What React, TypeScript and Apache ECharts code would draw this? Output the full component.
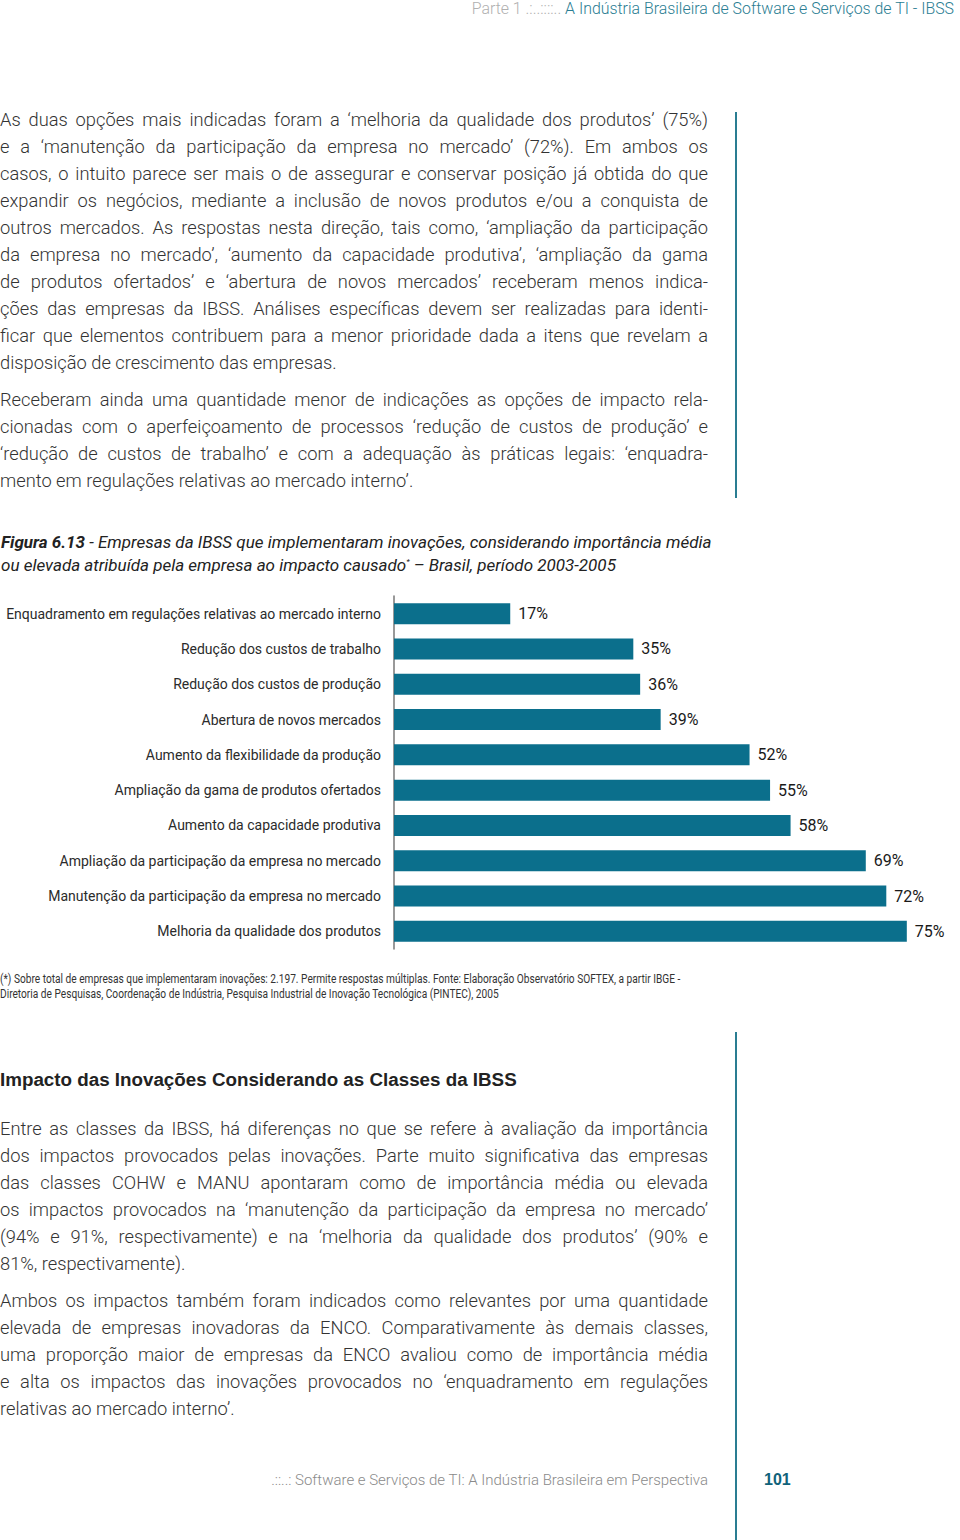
import React, { useEffect, useRef } from "react";
import * as echarts from "echarts";

const categories = [
  "Enquadramento em regulações relativas ao mercado interno",
  "Redução dos custos de trabalho",
  "Redução dos custos de produção",
  "Abertura de novos mercados",
  "Aumento da flexibilidade da produção",
  "Ampliação da gama de produtos ofertados",
  "Aumento da capacidade produtiva",
  "Ampliação da participação da empresa no mercado",
  "Manutenção da participação da empresa no mercado",
  "Melhoria da qualidade dos produtos",
];
const values = [17, 35, 36, 39, 52, 55, 58, 69, 72, 75];

const headerGray = "Parte 1 .:..::::.. ";
const headerTeal = "A Indústria Brasileira de Software e Serviços de TI - IBSS";

const para1 = [
  "As duas opções mais indicadas foram a ‘melhoria da qualidade dos produtos’ (75%)",
  "e a ‘manutenção da participação da empresa no mercado’ (72%). Em ambos os",
  "casos, o intuito parece ser mais o de assegurar e conservar posição já obtida do que",
  "expandir os negócios, mediante a inclusão de novos produtos e/ou a conquista de",
  "outros mercados. As respostas nesta direção, tais como, ‘ampliação da participação",
  "da empresa no mercado’, ‘aumento da capacidade produtiva’, ‘ampliação da gama",
  "de produtos ofertados’ e ‘abertura de novos mercados’ receberam menos indica-",
  "ções das empresas da IBSS. Análises específicas devem ser realizadas para identi-",
  "ficar que elementos contribuem para a menor prioridade dada a itens que revelam a",
  "disposição de crescimento das empresas.",
];
const para2 = [
  "Receberam ainda uma quantidade menor de indicações as opções de impacto rela-",
  "cionadas com o aperfeiçoamento de processos ‘redução de custos de produção’ e",
  "‘redução de custos de trabalho’ e com a adequação às práticas legais: ‘enquadra-",
  "mento em regulações relativas ao mercado interno’.",
];
const captionBold = "Figura 6.13";
const captionLine1 = " - Empresas da IBSS que implementaram inovações, considerando importância média";
const captionLine2a = "ou elevada atribuída pela empresa ao impacto causado";
const captionLine2b = " – Brasil, período 2003-2005";
const footnote = [
  "(*) Sobre total de empresas que implementaram inovações: 2.197. Permite respostas múltiplas. Fonte: Elaboração Observatório SOFTEX, a partir IBGE -",
  "Diretoria de Pesquisas, Coordenação de Indústria, Pesquisa Industrial de Inovação Tecnológica (PINTEC), 2005",
];
const heading = "Impacto das Inovações Considerando as Classes da IBSS";
const para3 = [
  "Entre as classes da IBSS, há diferenças no que se refere à avaliação da importância",
  "dos impactos provocados pelas inovações. Parte muito significativa das empresas",
  "das classes COHW e MANU apontaram como de importância média ou elevada",
  "os impactos provocados na ‘manutenção da participação da empresa no mercado’",
  "(94% e 91%, respectivamente) e na ‘melhoria da qualidade dos produtos’ (90% e",
  "81%, respectivamente).",
];
const para4 = [
  "Ambos os impactos também foram indicados como relevantes por uma quantidade",
  "elevada de empresas inovadoras da ENCO. Comparativamente às demais classes,",
  "uma proporção maior de empresas da ENCO avaliou como de importância média",
  "e alta os impactos das inovações provocados no ‘enquadramento em regulações",
  "relativas ao mercado interno’.",
];
const footerText = ".::..: Software e Serviços de TI: A Indústria Brasileira em Perspectiva";
const pageNumber = "101";

const TEAL = "#2a7d92";
const BAR = "#0b6f8c";
const NARROW = "Roboto, 'Liberation Sans', sans-serif";
const BODY = "Roboto, 'Liberation Sans', sans-serif";

function Para({ lines, top, lh }: { lines: string[]; top: number; lh: number }) {
  return (
    <>
      {lines.map((l, i) => (
        <div
          key={i}
          style={{
            position: "absolute",
            left: 0,
            top: top + i * lh,
            width: 708,
            height: lh,
            lineHeight: lh + "px",
            fontFamily: BODY,
            fontWeight: 300,
            fontSize: 18.3,
            color: "#333",
            textAlign: "justify",
            textAlignLast: i === lines.length - 1 ? "left" : "justify",
            whiteSpace: "nowrap",
          }}
        >
          {l}
        </div>
      ))}
    </>
  );
}

function Chart() {
  const ref = useRef<HTMLDivElement>(null);
  useEffect(() => {
    if (!ref.current) return;
    const chart = echarts.init(ref.current, null, { renderer: "svg" });
    chart.setOption({
      animation: false,
      grid: {
        left: 394,
        right: 19,
        top: 16,
        height: 353,
        containLabel: false,
        outerBoundsMode: "none",
      },
      xAxis: {
        type: "value",
        min: 0,
        max: 80,
        show: false,
      },
      yAxis: {
        type: "category",
        data: categories,
        inverse: true,
        axisLine: { show: true, lineStyle: { color: "#777", width: 1.5 } },
        axisTick: { show: false },
        axisLabel: {
          fontFamily: NARROW,
          fontSize: 14,
          color: "#2b2b2b",
          margin: 13,
        },
      },
      series: [
        {
          type: "bar",
          data: values,
          barWidth: 21,
          itemStyle: { color: BAR },
          label: {
            show: true,
            position: "right",
            distance: 8,
            formatter: "{c}%",
            fontFamily: NARROW,
            fontSize: 16,
            color: "#1a1a1a",
          },
        },
      ],
    });
    return () => chart.dispose();
  }, []);
  return (
    <div
      ref={ref}
      style={{ position: "absolute", left: 0, top: 580, width: 960, height: 390 }}
    />
  );
}

export default function App() {
  return (
    <div
      style={{
        position: "absolute",
        left: 0,
        top: 0,
        width: 960,
        height: 1540,
        background: "#fff",
        overflow: "hidden",
      }}
    >
      <div
        style={{
          position: "absolute",
          right: 6,
          top: 0,
          fontFamily: NARROW,
          fontWeight: 300,
          fontSize: 15.9,
          lineHeight: "18px",
          whiteSpace: "nowrap",
        }}
      >
        <span style={{ color: "#b0b0b0" }}>{headerGray}</span>
        <span style={{ color: TEAL }}>{headerTeal}</span>
      </div>

      <div style={{ position: "absolute", left: 735, top: 112, width: 2, height: 386, background: TEAL }} />
      <div style={{ position: "absolute", left: 735, top: 1032, width: 2, height: 508, background: TEAL }} />

      <Para lines={para1} top={106} lh={27} />
      <Para lines={para2} top={386} lh={27} />

      <div
        style={{
          position: "absolute",
          left: 1,
          top: 532,
          fontFamily: NARROW,
          fontStyle: "italic",
          fontSize: 17,
          lineHeight: "20px",
          color: "#222",
          whiteSpace: "nowrap",
        }}
      >
        <div>
          <b>{captionBold}</b>
          {captionLine1}
        </div>
        <div>
          {captionLine2a}
          <sup style={{ fontSize: 8 }}>*</sup>
          {captionLine2b}
        </div>
      </div>

      <Chart />

      <div
        style={{
          position: "absolute",
          left: 0,
          top: 972,
          fontFamily: NARROW,
          fontSize: 12,
          lineHeight: "15px",
          color: "#333",
          whiteSpace: "nowrap",
          transform: "scaleX(0.846)",
          transformOrigin: "left top",
        }}
      >
        {footnote.map((l, i) => (
          <div key={i}>{l}</div>
        ))}
      </div>

      <div
        style={{
          position: "absolute",
          left: 0,
          top: 1068,
          fontFamily: "'Liberation Sans', Arial, sans-serif",
          fontWeight: 700,
          fontSize: 18.8,
          lineHeight: "24px",
          color: "#222",
          whiteSpace: "nowrap",
        }}
      >
        {heading}
      </div>

      <Para lines={para3} top={1115} lh={27} />
      <Para lines={para4} top={1287} lh={27} />

      <div
        style={{
          position: "absolute",
          right: 252,
          top: 1471,
          fontFamily: BODY,
          fontWeight: 300,
          fontSize: 15,
          lineHeight: "18px",
          color: "#8a8a8a",
          whiteSpace: "nowrap",
        }}
      >
        {footerText}
      </div>
      <div
        style={{
          position: "absolute",
          left: 764,
          top: 1470,
          fontFamily: "'Liberation Sans', Arial, sans-serif",
          fontWeight: 700,
          fontSize: 16,
          lineHeight: "20px",
          color: "#10627a",
        }}
      >
        {pageNumber}
      </div>
    </div>
  );
}
